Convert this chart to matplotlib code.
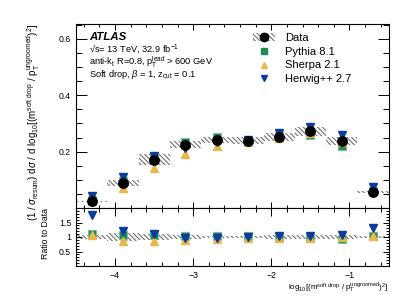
import matplotlib
matplotlib.use("Agg")
import matplotlib.pyplot as plt
import numpy as np
from matplotlib.patches import Patch
from matplotlib.lines import Line2D
from matplotlib.ticker import MultipleLocator

plt.rcParams['font.family'] = ['Liberation Sans', 'DejaVu Sans']
plt.rcParams['mathtext.fontset'] = 'custom'
plt.rcParams['mathtext.rm'] = 'Liberation Sans'
plt.rcParams['mathtext.it'] = 'Liberation Sans:italic'
plt.rcParams['hatch.linewidth'] = 0.8

# ---- data ----
bin_edges = [-4.5, -4.1, -3.7, -3.3, -2.9, -2.5, -2.1, -1.7, -1.3, -0.9, -0.5]
x_centers = [-4.3, -3.9, -3.5, -3.1, -2.7, -2.3, -1.9, -1.5, -1.1, -0.7]
data_vals = [0.024, 0.089, 0.172, 0.225, 0.242, 0.239, 0.252, 0.272, 0.237, 0.057]
data_relunc = [0.06, 0.135, 0.105, 0.053, 0.045, 0.05, 0.056, 0.055, 0.06, 0.05]
pythia_vals = [0.030, 0.097, 0.186, 0.234, 0.251, 0.243, 0.255, 0.260, 0.221, 0.060]
sherpa_vals = [0.025, 0.071, 0.142, 0.193, 0.221, 0.235, 0.250, 0.265, 0.235, 0.060]
herwig_vals = [0.042, 0.109, 0.186, 0.213, 0.233, 0.240, 0.265, 0.287, 0.258, 0.074]
pythia_ratio = [1.12, 1.07, 1.08, 1.03, 1.03, 1.02, 1.00, 0.96, 0.93, 1.03]
sherpa_ratio = [1.06, 0.86, 0.86, 0.90, 0.92, 0.98, 0.98, 0.97, 0.99, 1.05]
herwig_ratio = [1.77, 1.20, 1.09, 0.98, 0.95, 1.00, 1.04, 1.05, 1.08, 1.30]

c_py = '#1e8b5a'
c_sh = '#e8b84a'
c_hw = '#0c3c9c'
hatch_col = '#707070'
HATCH = '\\' * 7

fig = plt.figure(figsize=(4.15, 2.98), dpi=100)
L, R = 76/415, 388.5/415
axm = fig.add_axes([L, 1-208/298, R-L, (208-24)/298])
axr = fig.add_axes([L, 1-266/298, R-L, (266-208)/298], sharex=axm)

dv = np.array(data_vals)
du = np.array(data_relunc)
edges = np.array(bin_edges)

def band(ax, lo, hi):
    for i in range(len(lo)):
        ax.fill_between([edges[i], edges[i+1]], [lo[i]]*2, [hi[i]]*2,
                        facecolor='none', edgecolor=hatch_col, hatch=HATCH,
                        linewidth=0, zorder=1)

band(axm, dv*(1-du), dv*(1+du))
band(axr, 1-du, 1+du)

ms = 6.3
axm.plot(x_centers, pythia_vals, 's', color=c_py, mec='#6cc096', mew=0.6, ms=ms-0.5, zorder=3)
axm.plot(x_centers, sherpa_vals, '^', color=c_sh, mec=c_sh, ms=ms, zorder=3)
axm.plot(x_centers, herwig_vals, 'v', color=c_hw, mec=c_hw, ms=ms, zorder=3)
axm.plot(x_centers, data_vals, 'o', color='black', ms=6.8, zorder=4)

axr.plot(x_centers, pythia_ratio, 's', color=c_py, mec='#6cc096', mew=0.6, ms=ms-0.5, zorder=3)
axr.plot(x_centers, sherpa_ratio, '^', color=c_sh, mec=c_sh, ms=ms, zorder=3)
axr.plot(x_centers, herwig_ratio, 'v', color=c_hw, mec=c_hw, ms=ms, zorder=3)

axm.set_xlim(-4.5, -0.5)
axm.set_ylim(0, 0.653)
axr.set_ylim(0, 2.0)

fs = 6.3
for ax in (axm, axr):
    ax.tick_params(which='both', direction='in', top=True, right=True, labelsize=fs, width=0.7)
    ax.xaxis.set_major_locator(MultipleLocator(1))
    ax.xaxis.set_minor_locator(MultipleLocator(0.2))
    for s in ax.spines.values():
        s.set_linewidth(0.8)
axm.yaxis.set_major_locator(MultipleLocator(0.2))
axm.yaxis.set_minor_locator(MultipleLocator(0.05))
axm.tick_params(axis='y', which='major', length=8)
axm.tick_params(axis='y', which='minor', length=4)
axm.tick_params(axis='x', which='major', length=4.3)
axm.tick_params(axis='x', which='minor', length=2.2)
axm.tick_params(axis='x', labelbottom=False)
axm.set_yticks([0.2, 0.4, 0.6])
axm.set_yticklabels(['0.2', '0.4', '0.6'])

axr.yaxis.set_major_locator(MultipleLocator(0.5))
axr.yaxis.set_minor_locator(MultipleLocator(0.1))
axr.set_yticks([0.5, 1.0, 1.5])
axr.set_yticklabels(['0.5', '1', '1.5'])
axr.tick_params(axis='y', which='major', length=4)
axr.tick_params(axis='y', which='minor', length=2)
axr.tick_params(axis='x', which='major', length=6)
axr.tick_params(axis='x', which='minor', length=3)
axr.set_xticks([-4, -3, -2, -1])
axr.set_xticklabels(['\u22124', '\u22123', '\u22122', '\u22121'])

axm.set_ylabel(r'(1 / $\sigma_{\rm resum}$) d$\sigma$ / d log$_{10}$[(m$^{\rm soft\ drop}$ / p$_{\rm T}^{\rm ungroomed}$)$^{2}$]',
               fontsize=7, loc='top')
axm.yaxis.set_label_coords(-0.108, 1.0)
axr.set_ylabel('Ratio to Data', fontsize=6.3, loc='top')
axr.yaxis.set_label_coords(-0.083, 1.0)
axr.set_xlabel(r'log$_{10}$[(m$^{\rm soft\ drop}$ / p$_{\rm T}^{\rm ungroomed}$)$^{2}$]',
               fontsize=5.8, loc='right', labelpad=0.5)

# ATLAS text
tx = (89-76)/(388.5-76)
tfs = 6.7
axm.text(tx, 0.928, 'ATLAS', transform=axm.transAxes, fontsize=8.2, fontweight='bold',
         style='italic', va='center')
axm.text(tx, 0.863, '\u221as= 13 TeV, 32.9 fb$^{-1}$', transform=axm.transAxes, fontsize=tfs, va='center')
axm.text(tx, 0.793, r'anti-k$_{\rm t}$ R=0.8, p$_{\rm T}^{\rm lead}$ > 600 GeV', transform=axm.transAxes, fontsize=tfs, va='center')
axm.text(tx, 0.723, r'Soft drop, $\beta$ = 1, z$_{\rm cut}$ = 0.1', transform=axm.transAxes, fontsize=tfs, va='center')

# legend
h_data = (Patch(facecolor='none', edgecolor=hatch_col, hatch=HATCH, linewidth=0),
          Line2D([], [], marker='o', color='black', ls='none', ms=6))
h_py = Line2D([], [], marker='s', color=c_py, ls='none', ms=4.5)
h_sh = Line2D([], [], marker='^', color=c_sh, ls='none', ms=5)
h_hw = Line2D([], [], marker='v', color=c_hw, ls='none', ms=5)
axm.legend([h_data, h_py, h_sh, h_hw], ['Data', 'Pythia 8.1', 'Sherpa 2.1', 'Herwig++ 2.7'],
           loc='upper left', bbox_to_anchor=(0.54, 0.995), frameon=False, fontsize=8,
           handlelength=2.0, handletextpad=0.9, labelspacing=0.35, borderpad=0.2)

fig.savefig('out.png', dpi=100)
